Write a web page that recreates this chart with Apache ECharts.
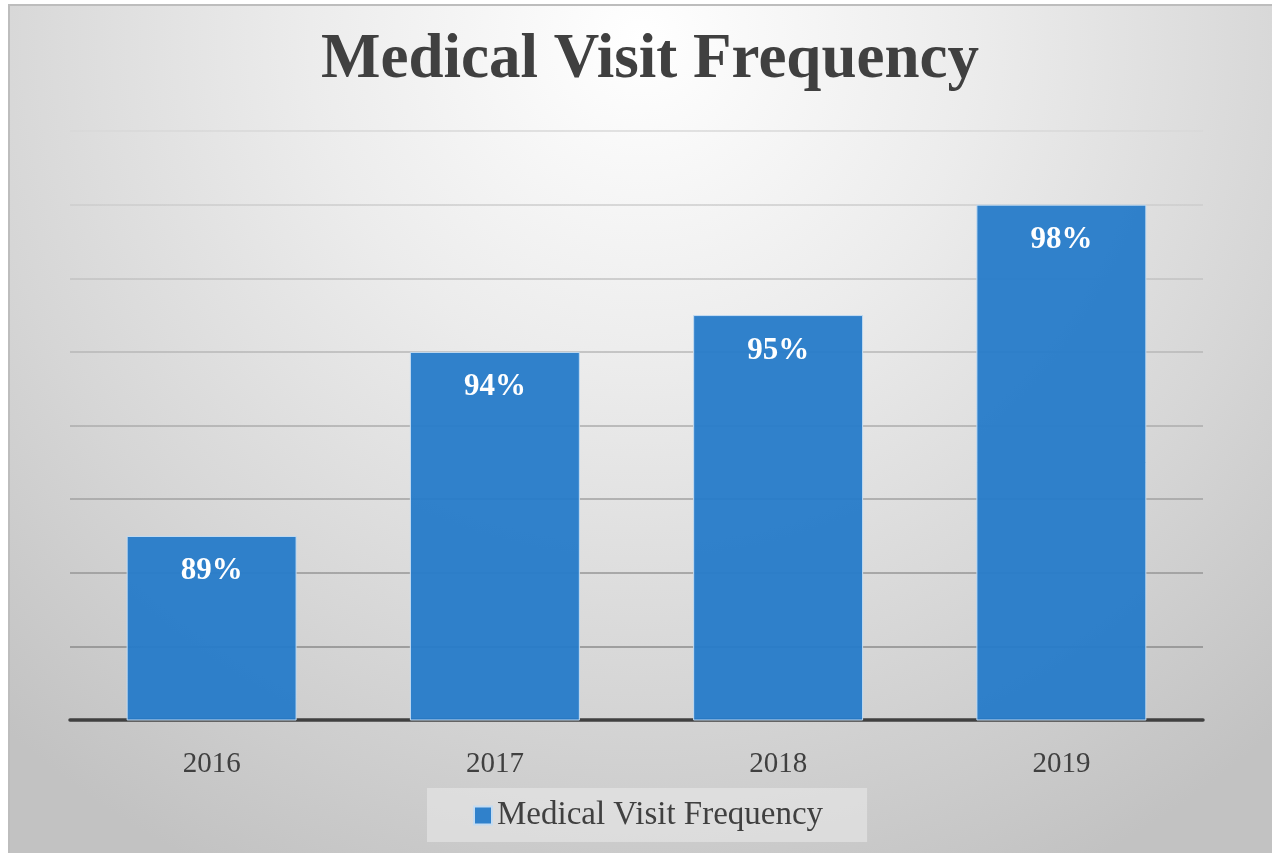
<!DOCTYPE html>
<html>
<head>
<meta charset="utf-8">
<title>Medical Visit Frequency</title>
<script src="https://cdn.jsdelivr.net/npm/echarts@6/dist/echarts.min.js"></script>
<style>
  html, body { margin: 0; padding: 0; background: #ffffff; }
  #bg {
    position: absolute; left: 8px; top: 4px; right: 0; bottom: 0;
    border-top: 2px solid #bdbdbd; border-left: 2px solid #bdbdbd;
    background: radial-gradient(ellipse 75% 110% at 50% 4%, #ffffff 0%, #ececec 35%, #d6d6d6 70%, #c2c2c2 100%);
  }
  #main { position: absolute; left: 0; top: 0; width: 1272px; height: 853px; }
</style>
</head>
<body>
<div id="bg"></div>
<div id="main"></div>
<script>
// categories and values
var years = ['2016', '2017', '2018', '2019'];
var visitPct = [89, 94, 95, 98];
var seriesName = 'Medical Visit Frequency';

var chart = echarts.init(document.getElementById('main'), null, { renderer: 'canvas' });

var serif = '"Liberation Serif", "DejaVu Serif", serif';

var option = {
  backgroundColor: 'transparent',
  title: {
    text: 'Medical Visit Frequency',
    left: 316,
    top: 24,
    textStyle: {
      fontFamily: serif,
      fontSize: 63,
      fontWeight: 'bold',
      color: '#404040'
    }
  },
  legend: {
    left: 427,
    top: 788,
    padding: [11, 44, 10, 46],
    backgroundColor: 'rgba(235,235,235,0.55)',
    itemWidth: 18,
    itemHeight: 18,
    itemGap: 8,
    icon: 'rect',
    textStyle: { fontFamily: serif, fontSize: 33, color: '#404040' },
    data: [seriesName]
  },
  grid: { left: 70, right: 69, top: 131, bottom: 133 },
  xAxis: {
    type: 'category',
    data: years,
    axisTick: { show: false },
    axisLine: { lineStyle: { color: '#404040', width: 3.5 } },
    axisLabel: { margin: 30, fontFamily: serif, fontSize: 29, color: '#404040' }
  },
  yAxis: {
    type: 'value',
    min: 84,
    max: 100,
    interval: 2,
    axisLabel: { show: false },
    axisLine: { show: false },
    axisTick: { show: false },
    splitLine: {
      lineStyle: {
        width: 1.6,
        color: new echarts.graphic.LinearGradient(0, 131, 0, 720, [
          { offset: 0, color: '#d8d8d8' },
          { offset: 1, color: '#808080' }
        ], true)
      }
    }
  },
  series: [{
    name: seriesName,
    type: 'bar',
    data: visitPct,
    barWidth: '60%',
    itemStyle: {
      color: 'rgba(36,122,201,0.94)',
      borderColor: '#c4dcf2',
      borderWidth: 1
    },
    label: {
      show: true,
      position: 'insideTop',
      distance: 20,
      formatter: '{c}%',
      fontFamily: serif,
      fontSize: 31,
      fontWeight: 'bold',
      color: '#ffffff'
    }
  }]
};

chart.setOption(option);
</script>
</body>
</html>
